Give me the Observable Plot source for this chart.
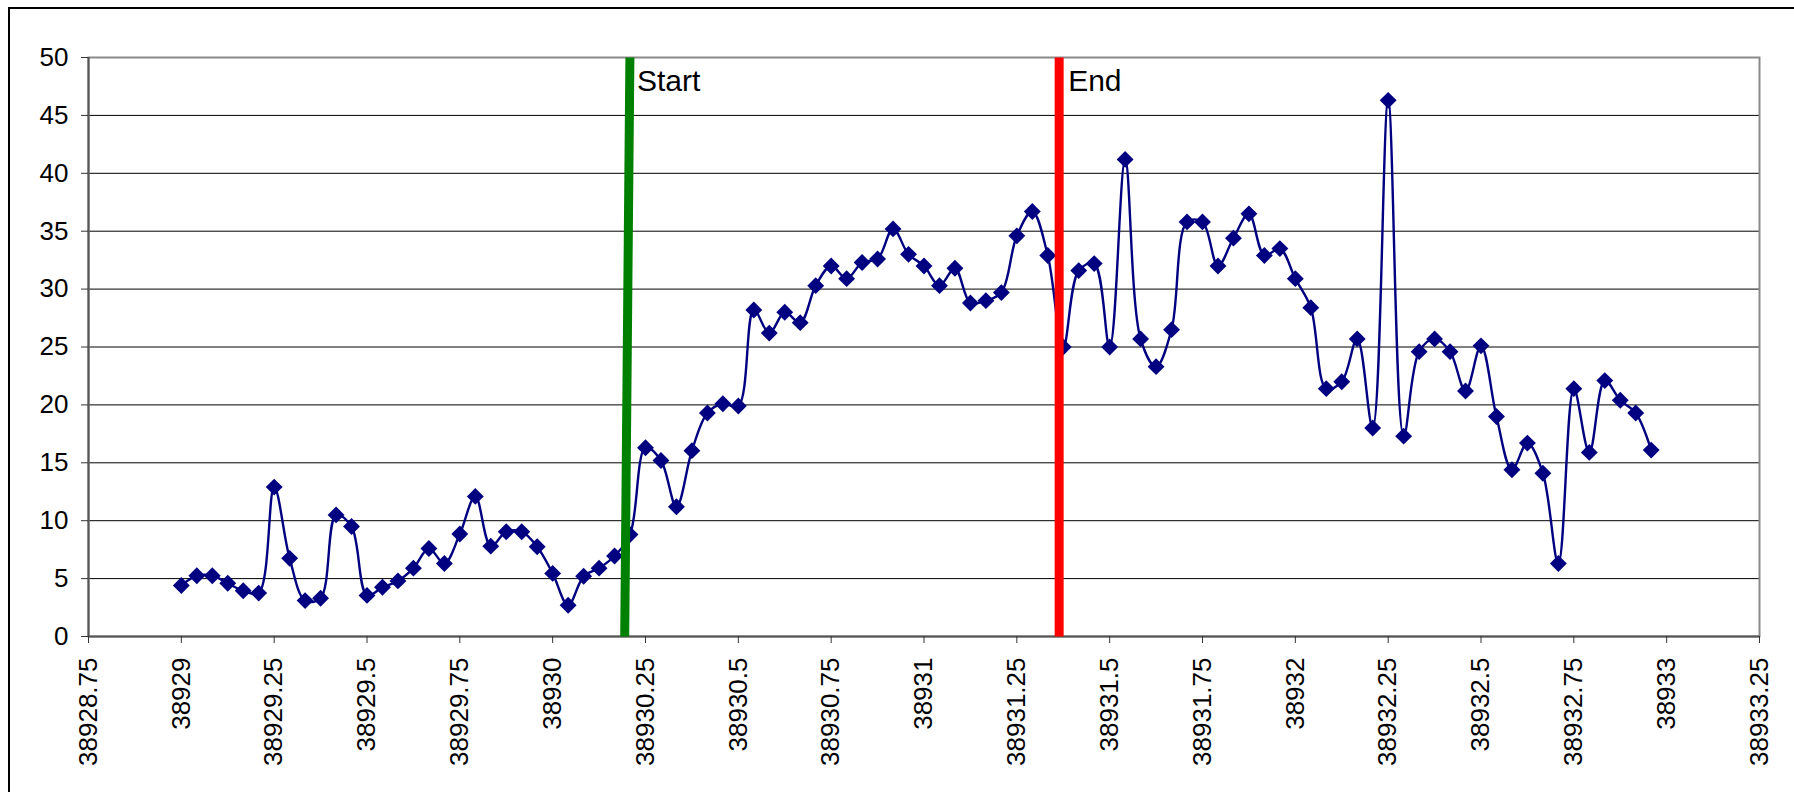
<!DOCTYPE html>
<html><head><meta charset="utf-8">
<script src="https://cdn.jsdelivr.net/npm/d3@7"></script>
<script src="https://cdn.jsdelivr.net/npm/@observablehq/plot@0.6"></script>
<style>
body{margin:0;background:#fff;}
#wrap{position:relative;width:1794px;height:792px;overflow:hidden;background:#fff;}
#chart{position:absolute;left:0;top:0;}
#border{position:absolute;left:8px;top:7px;width:1800px;height:800px;border-top:2px solid #000;border-left:2px solid #000;pointer-events:none;}
</style></head><body>
<div id="wrap"><div id="chart"></div><div id="border"></div></div>
<script>
// Time axis: hourly readings starting at day 38929
const firstDay = 38929;
const hoursPerDay = 24;
// Values, one per hour
const values = [
  4.4, 5.25, 5.25, 4.6, 3.95, 3.75, 12.9, 6.75, 3.1, 3.3, 10.5, 9.5,
  3.55, 4.25, 4.8, 5.9, 7.6, 6.3, 8.85, 12.1, 7.8, 9.05, 9.05, 7.75,
  5.45, 2.7, 5.2, 5.9, 6.95, 8.8, 16.3, 15.2, 11.2, 16.05, 19.3, 20.1,
  19.9, 28.2, 26.2, 28.0, 27.1, 30.3, 32.0, 30.9, 32.3, 32.6, 35.2, 33.0,
  32.0, 30.3, 31.8, 28.8, 29.0, 29.7, 34.6, 36.7, 32.9, 25.0, 31.6, 32.2,
  25.0, 41.2, 25.7, 23.3, 26.5, 35.8, 35.8, 32.0, 34.4, 36.5, 32.9, 33.5,
  30.9, 28.4, 21.4, 22.0, 25.7, 18.0, 46.3, 17.3, 24.6, 25.7, 24.6, 21.2,
  25.1, 19.0, 14.4, 16.7, 14.1, 6.3, 21.4, 15.9, 22.1, 20.4, 19.3, 16.1
];
// Start marker (slightly slanted) and End marker
const startX = [38930.194, 38930.208];
const startY = [0, 50];
const endX = [38931.364, 38931.364];
const endY = [0, 50];
const markerLabels = ["Start", "End"];
// Axis ticks
const xTicks = [38928.75, 38929, 38929.25, 38929.5, 38929.75, 38930, 38930.25, 38930.5, 38930.75,
  38931, 38931.25, 38931.5, 38931.75, 38932, 38932.25, 38932.5, 38932.75, 38933, 38933.25];
const yTicks = [0, 5, 10, 15, 20, 25, 30, 35, 40, 45, 50];

const series = values.map((v, i) => ({x: firstDay + i / hoursPerDay, y: v}));
const startLine = startX.map((x, i) => ({x, y: startY[i]}));
const endLine = endX.map((x, i) => ({x, y: endY[i]}));

const font = "'Liberation Sans', Arial, sans-serif";
const chart = Plot.plot({
  width: 1794, height: 792,
  marginLeft: 88, marginRight: 35, marginTop: 57, marginBottom: 156,
  style: {fontFamily: font, fontSize: "26px", background: "transparent", color: "#000"},
  x: {domain: [38928.75, 38933.25]},
  y: {domain: [0, 50]},
  marks: [
    Plot.gridY(yTicks, {stroke: "#000", strokeOpacity: 1, strokeWidth: 1}),
    Plot.frame({stroke: "#8a8a8a", strokeWidth: 2}),
    Plot.ruleY([0], {stroke: "#555", strokeWidth: 2}),
    Plot.ruleX([38928.75], {stroke: "#555", strokeWidth: 2}),
    Plot.axisY(yTicks, {tickSize: 7, tickPadding: 13, stroke: "#333", fontSize: 26, label: null, tickFormat: d => String(d)}),
    Plot.axisX(xTicks, {tickSize: 7, tickPadding: 14, tickRotate: -90, stroke: "#333", fontSize: 26, label: null, tickFormat: d => String(d)}),
    Plot.line(series, {x: "x", y: "y", stroke: "#000080", strokeWidth: 2.4, curve: "catmull-rom"}),
    Plot.dot(series, {x: "x", y: "y", symbol: "diamond2", r: 7.6, fill: "#000080", stroke: "none"}),
    Plot.line(startLine, {x: "x", y: "y", stroke: "#008000", strokeWidth: 9, strokeLinecap: "butt"}),
    Plot.line(endLine, {x: "x", y: "y", stroke: "#ff0000", strokeWidth: 9, strokeLinecap: "butt"}),
    Plot.text([markerLabels[0]], {x: startX[1], y: startY[1], text: d => d, dx: 7, dy: 24, textAnchor: "start", fontSize: 30, fill: "#000"}),
    Plot.text([markerLabels[1]], {x: endX[1], y: endY[1], text: d => d, dx: 9, dy: 24, textAnchor: "start", fontSize: 30, fill: "#000"})
  ]
});
document.getElementById("chart").appendChild(chart);
</script>
</body></html>
